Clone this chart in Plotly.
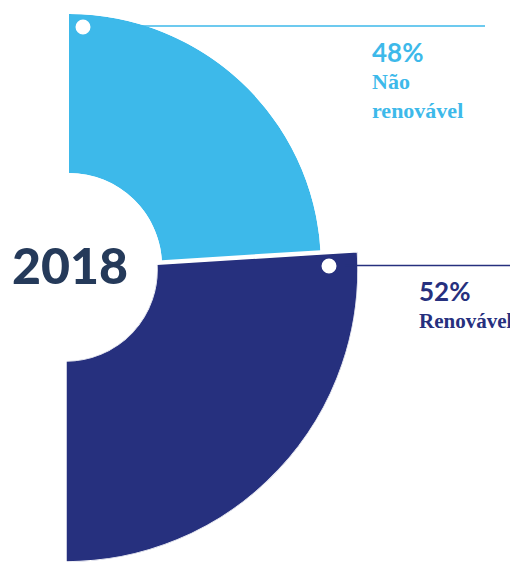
import math
import plotly.graph_objects as go

# ---- data ----
categories = ["Não renovável", "Renovável"]
shares = [48, 52]
share_labels = ["48%", "52%"]
year_label = "2018"

# ---- style ----
PAGE_OFF = 8                     # default body margin of the html page
W, H = 518 - PAGE_OFF, 562 - PAGE_OFF
colors = ["#3db9ea", "#26307e"]
year_color = "#253a5a"
centers_px = [(69, 266), (66, 270)]   # centre of each slice (window pixels)
outer_px = [252, 292]                 # outer radius of each slice (design choice)
hole_px = [93, 91]


def px_x(x):
    return min(1.0, max(0.0, (x - PAGE_OFF) / W))


def px_y(y):
    return min(1.0, max(0.0, 1 - (y - PAGE_OFF) / H))


# convert shares to angles on a half circle (clockwise from top)
deg_per_unit = 180 / sum(shares)
starts, widths = [], []
acc = 0
for s in shares:
    starts.append(acc * deg_per_unit)
    widths.append(s * deg_per_unit)
    acc += s

fig = go.Figure()
for i, (cat, s) in enumerate(zip(categories, shares)):
    fig.add_trace(go.Barpolar(
        r=[1], base=[0],
        theta=[starts[i] + widths[i] / 2], width=[widths[i]],
        marker=dict(color=colors[i], line=dict(color="white", width=1.5 if i == 1 else 0)),
        name=cat, showlegend=False, hoverinfo="skip",
        subplot="polar" if i == 0 else "polar2",
    ))

top_ext = math.sin(math.radians(5))


def polar_layout(i, sector, ybox_top, ybox_bot):
    cx, cy = centers_px[i]
    R = outer_px[i]
    return dict(
        domain=dict(x=[px_x(cx), px_x(cx + R)],
                    y=[px_y(cy + ybox_bot * R), px_y(cy - ybox_top * R)]),
        sector=sector,
        hole=hole_px[i] / R,
        bgcolor="rgba(0,0,0,0)",
        radialaxis=dict(visible=False, range=[0, 1], showgrid=False),
        angularaxis=dict(visible=False, rotation=90, direction="clockwise",
                         showgrid=False),
        barmode="overlay",
    )


shapes = []
# leader lines
shapes.append(dict(type="line", xref="paper", yref="paper",
                   x0=px_x(128), x1=px_x(485), y0=px_y(26), y1=px_y(26),
                   line=dict(color=colors[0], width=1.3), layer="above"))
shapes.append(dict(type="line", xref="paper", yref="paper",
                   x0=px_x(345), x1=px_x(518), y0=px_y(265.5), y1=px_y(265.5),
                   line=dict(color=colors[1], width=1.3), layer="above"))
# dots
for (dx, dy) in [(83, 27), (329, 266)]:
    r = 7.5
    shapes.append(dict(type="circle", xref="paper", yref="paper",
                       x0=px_x(dx - r), x1=px_x(dx + r),
                       y0=px_y(dy + r), y1=px_y(dy - r),
                       fillcolor="white", line=dict(width=0), layer="above"))

annotations = [
    dict(text=year_label, x=px_x(70), y=px_y(265), xref="paper", yref="paper",
         xanchor="center", yanchor="middle", showarrow=False,
         font=dict(family="Lato", size=50, color=year_color, weight=900)),
    dict(text=f"<b>{share_labels[0]}</b>", x=px_x(370), y=px_y(52), xref="paper", yref="paper",
         xanchor="left", yanchor="middle", showarrow=False,
         font=dict(family="Lato", size=26, color=colors[0])),
    dict(text="<b>Não<br>renovável</b>", x=px_x(370), y=px_y(67), xref="paper", yref="paper",
         xanchor="left", yanchor="top", align="left", showarrow=False,
         font=dict(family="Liberation Serif", size=22, color=colors[0])),
    dict(text=f"<b>{share_labels[1]}</b>", x=px_x(417), y=px_y(291), xref="paper", yref="paper",
         xanchor="left", yanchor="middle", showarrow=False,
         font=dict(family="Lato", size=26, color=colors[1])),
    dict(text="<b>Renovável</b>", x=px_x(417), y=px_y(321), xref="paper", yref="paper",
         xanchor="left", yanchor="middle", align="left", showarrow=False,
         font=dict(family="Liberation Serif", size=21, color=colors[1])),
]

fig.update_layout(
    width=W, height=H,
    margin=dict(l=0, r=0, t=0, b=0),
    paper_bgcolor="white", plot_bgcolor="white",
    polar=polar_layout(0, [0, 90], 1.0, 0.0),
    polar2=polar_layout(1, [-90, 5], top_ext, 1.0),
    shapes=shapes,
    annotations=annotations,
    showlegend=False,
)

fig.write_html("out.html")
